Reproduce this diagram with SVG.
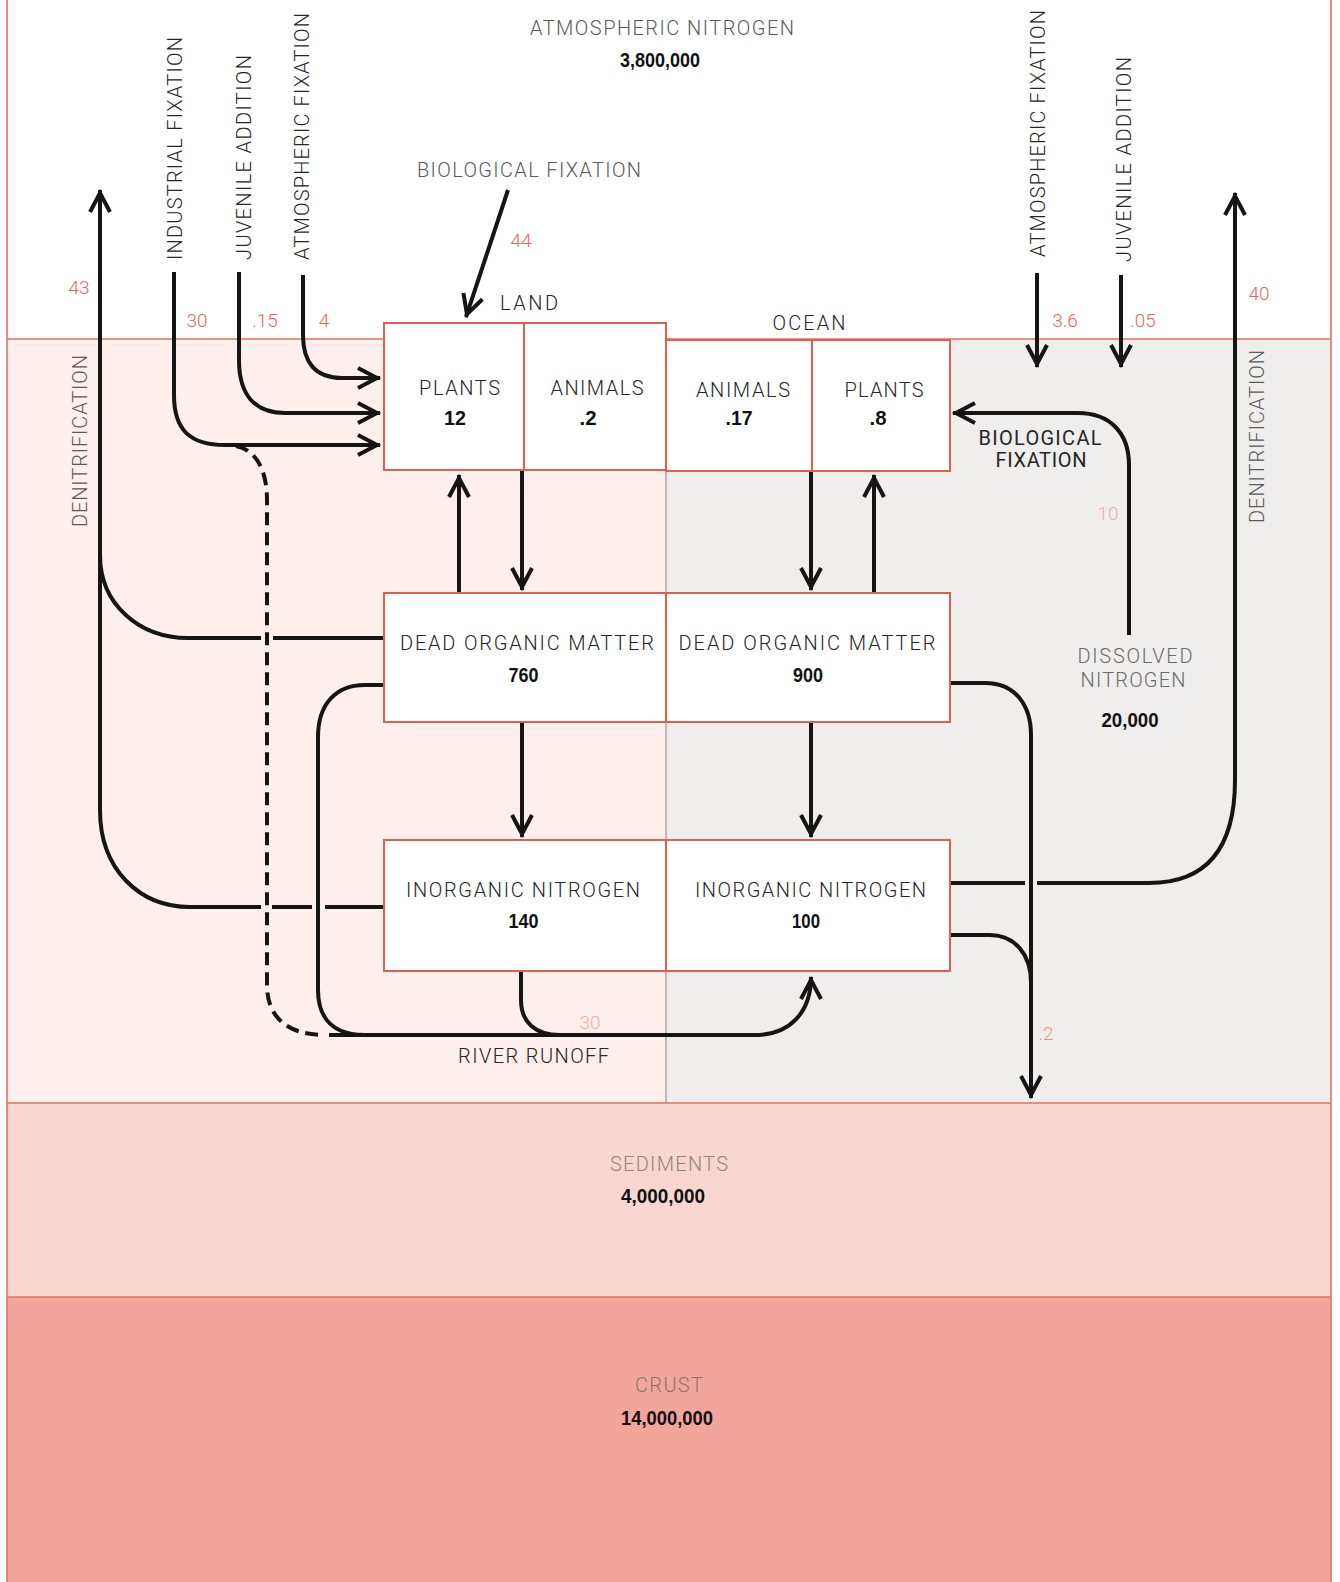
<svg xmlns="http://www.w3.org/2000/svg" width="1340" height="1582" viewBox="0 0 1340 1582">
<style>
.lbl{font-family:Roboto,"Liberation Sans",sans-serif;font-weight:300;font-size:20px;fill:#262626}
.gry{font-family:Roboto,"Liberation Sans",sans-serif;font-weight:300;font-size:20px;fill:#5a5a5a}
.num{font-family:"Liberation Sans",Arial,sans-serif;font-weight:bold;font-size:20px;fill:#111}
.red{font-family:Roboto,"Liberation Sans",sans-serif;font-weight:300;font-size:19px;fill:#e4675a}
.faint{font-family:Roboto,"Liberation Sans",sans-serif;font-weight:300;font-size:19px;fill:#eeb0a6}
.box{fill:#fff;stroke:#e0604f;stroke-width:2}
.edge{stroke:#e4705f;stroke-width:1.6;fill:none}
.c{fill:none;stroke:#151515;stroke-width:4}
</style>
<defs>
<marker id="ah" viewBox="-24 -14 30 28" refX="3" refY="0" markerWidth="30" markerHeight="28" markerUnits="userSpaceOnUse" orient="auto">
<path d="M-19,-10 L0,0 L-19,10" fill="none" stroke="#151515" stroke-width="4"/>
</marker>
</defs>

<g id="background">
<rect x="0" y="0" width="1340" height="1582" fill="#ffffff"/>
<rect x="7" y="339" width="659" height="764" fill="#fcefec"/>
<rect x="666" y="339" width="665" height="764" fill="#efeeed"/>
<rect x="7" y="1103" width="1324" height="194" fill="#f9d6cf"/>
<rect x="7" y="1297" width="1324" height="285" fill="#f2a59b"/>
<line class="edge" x1="7" y1="0" x2="7" y2="1582"/>
<line class="edge" x1="1331" y1="0" x2="1331" y2="1582"/>
<line class="edge" x1="7" y1="339" x2="1331" y2="339"/>
<line class="edge" x1="7" y1="1103" x2="1331" y2="1103"/>
<line class="edge" x1="7" y1="1297" x2="1331" y2="1297"/>
<line x1="666" y1="339" x2="666" y2="1103" stroke="#8a7f7c" stroke-width="1"/>
</g>

<g id="atmosphere">
<text class="gry" x="662" y="35" text-anchor="middle" textLength="264">ATMOSPHERIC NITROGEN</text>
<text class="num" x="660" y="67" text-anchor="middle" textLength="80" lengthAdjust="spacingAndGlyphs">3,800,000</text>
</g>

<g id="sediments">
<text class="gry" x="669" y="1171" text-anchor="middle" textLength="118" style="fill:#8e8583">SEDIMENTS</text>
<text class="num" x="663" y="1203" text-anchor="middle" textLength="84" lengthAdjust="spacingAndGlyphs">4,000,000</text>
</g>

<g id="crust">
<text class="gry" x="669" y="1392" text-anchor="middle" textLength="68" style="fill:#8e7470">CRUST</text>
<text class="num" x="667" y="1425" text-anchor="middle" textLength="92" lengthAdjust="spacingAndGlyphs">14,000,000</text>
</g>

<g id="connectors">
<!-- left denitrification -->
<path class="c" d="M261,907 H190 C140,907 100,870 100,810 V190" marker-end="url(#ah)"/>
<path class="c" d="M272,907 H312" stroke-width="6"/>
<path class="c" d="M325,907 H384"/>
<path class="c" d="M261,638 H188 C140,638 100,605 100,555"/>
<path class="c" d="M273,638 H384"/>
<!-- industrial fixation -->
<path class="c" d="M174,272 V395 C174,430 190,445 225,445 H380" marker-end="url(#ah)"/>
<path class="c" d="M236,446 C256,450 267,470 267,500 V985 C267,1015 285,1035 325,1035" stroke-dasharray="13,7"/>
<!-- juvenile addition land -->
<path class="c" d="M239,272 V360 C239,395 255,413 285,413 H380" marker-end="url(#ah)"/>
<!-- atmospheric fixation land -->
<path class="c" d="M303,275 V335 C303,362 315,378 342,378 H380" marker-end="url(#ah)"/>
<!-- biological fixation land -->
<path class="c" d="M508,190 L466,317" stroke-width="5" marker-end="url(#ah)"/>
<!-- land plants -> animals -->
<path class="c" d="M500,426 H543" stroke-width="6" marker-end="url(#ah)"/>
<!-- land plants <-> dead organic -->
<path class="c" d="M459,593 V475" marker-end="url(#ah)"/>
<path class="c" d="M522,470 V590" marker-end="url(#ah)"/>
<path class="c" d="M522,722 V837" marker-end="url(#ah)"/>
<!-- dead organic land loop / river runoff -->
<path class="c" d="M384,685 H365 C335,685 318,705 318,737 V990 C318,1020 335,1035 365,1035 H755 C790,1035 811,1012 811,977" marker-end="url(#ah)"/>
<path class="c" d="M329,1035 H365"/>
<path class="c" d="M521,971 V1000 C521,1022 535,1035 560,1035"/>
<!-- ocean plants -> animals -->
<path class="c" d="M830,427 H787" stroke-width="6" marker-end="url(#ah)"/>
<path class="c" d="M811,471 V590" marker-end="url(#ah)"/>
<path class="c" d="M874,593 V475" marker-end="url(#ah)"/>
<path class="c" d="M811,722 V837" marker-end="url(#ah)"/>
<!-- ocean biological fixation -->
<path class="c" d="M1129,635 V465 C1129,433 1110,413 1078,413 H953" marker-end="url(#ah)"/>
<!-- ocean atmospheric / juvenile -->
<path class="c" d="M1037,273 V367" marker-end="url(#ah)"/>
<path class="c" d="M1121,275 V367" marker-end="url(#ah)"/>
<!-- right denitrification -->
<path class="c" d="M950,883 H1025"/>
<path class="c" d="M1037,883 H1149 C1205,883 1235,850 1235,780 V193" marker-end="url(#ah)"/>
<!-- to sediments -->
<path class="c" d="M950,683 H985 C1015,683 1031,705 1031,735 V1098" stroke-width="3.5" marker-end="url(#ah)"/>
<path class="c" d="M950,935 H990 C1015,935 1031,955 1031,982" stroke-width="3.5"/>
</g>

<g id="flow-labels">
<text class="gry" x="529" y="177" text-anchor="middle" textLength="224">BIOLOGICAL FIXATION</text>
<text class="gry" transform="translate(174,148.5) rotate(-90)" y="7.5" text-anchor="middle" textLength="223" style="fill:#262626">INDUSTRIAL FIXATION</text>
<text class="gry" transform="translate(243,157.5) rotate(-90)" y="7.5" text-anchor="middle" textLength="205" style="fill:#262626">JUVENILE ADDITION</text>
<text class="gry" transform="translate(301,136.5) rotate(-90)" y="7.5" text-anchor="middle" textLength="247" style="fill:#262626">ATMOSPHERIC FIXATION</text>
<text class="gry" transform="translate(1037,133.5) rotate(-90)" y="7.5" text-anchor="middle" textLength="247" style="fill:#262626">ATMOSPHERIC FIXATION</text>
<text class="gry" transform="translate(1123,159.5) rotate(-90)" y="7.5" text-anchor="middle" textLength="205" style="fill:#262626">JUVENILE ADDITION</text>
<text class="gry" transform="translate(79,441) rotate(-90)" y="7.5" text-anchor="middle" textLength="172">DENITRIFICATION</text>
<text class="gry" transform="translate(1256,436.5) rotate(-90)" y="7.5" text-anchor="middle" textLength="173">DENITRIFICATION</text>
<text class="lbl" x="1040" y="445" text-anchor="middle" textLength="123" style="font-weight:400">BIOLOGICAL</text>
<text class="lbl" x="1041" y="467" text-anchor="middle" textLength="91" style="font-weight:400">FIXATION</text>
<text class="lbl" x="533.5" y="1063" text-anchor="middle" textLength="151">RIVER RUNOFF</text>
<text class="red" x="79" y="294" text-anchor="middle">43</text>
<text class="red" x="197" y="327" text-anchor="middle">30</text>
<text class="red" x="265" y="327" text-anchor="middle">.15</text>
<text class="red" x="324" y="327" text-anchor="middle">4</text>
<text class="red" x="521" y="247" text-anchor="middle">44</text>
<text class="red" x="1065" y="327" text-anchor="middle">3.6</text>
<text class="red" x="1143" y="327" text-anchor="middle">.05</text>
<text class="red" x="1259" y="300" text-anchor="middle">40</text>
<text class="faint" x="1108" y="520" text-anchor="middle">10</text>
<text class="faint" x="590" y="1029" text-anchor="middle">30</text>
<text class="red" x="1046" y="1040" text-anchor="middle" style="fill:#e8957a">.2</text>
</g>

<g id="land-label"><text class="lbl" x="529" y="310" text-anchor="middle" textLength="58">LAND</text></g>
<g id="ocean-label"><text class="lbl" x="809" y="330" text-anchor="middle" textLength="73">OCEAN</text></g>

<g id="land-biota">
<rect class="box" x="384" y="323" width="282" height="147"/>
<line x1="524" y1="323" x2="524" y2="470" stroke="#e0604f" stroke-width="2"/>
<text class="lbl" x="459.5" y="395" text-anchor="middle" textLength="81">PLANTS</text>
<text class="num" x="455" y="425" text-anchor="middle" textLength="22" lengthAdjust="spacingAndGlyphs">12</text>
<text class="lbl" x="597" y="395" text-anchor="middle" textLength="93">ANIMALS</text>
<text class="num" x="588" y="425" text-anchor="middle" textLength="17" lengthAdjust="spacingAndGlyphs">.2</text>
</g>

<g id="ocean-biota">
<rect class="box" x="666" y="340" width="284" height="131"/>
<line x1="812" y1="340" x2="812" y2="471" stroke="#e0604f" stroke-width="2"/>
<text class="lbl" x="743" y="397" text-anchor="middle" textLength="94">ANIMALS</text>
<text class="num" x="739" y="425" text-anchor="middle" textLength="27" lengthAdjust="spacingAndGlyphs">.17</text>
<text class="lbl" x="884" y="397" text-anchor="middle" textLength="79">PLANTS</text>
<text class="num" x="878" y="425" text-anchor="middle" textLength="17" lengthAdjust="spacingAndGlyphs">.8</text>
</g>

<g id="land-dead-organic">
<rect class="box" x="384" y="593" width="282" height="129"/>
<text class="lbl" x="527" y="650" text-anchor="middle" textLength="254">DEAD ORGANIC MATTER</text>
<text class="num" x="523.5" y="682" text-anchor="middle" textLength="30" lengthAdjust="spacingAndGlyphs">760</text>
</g>

<g id="ocean-dead-organic">
<rect class="box" x="666" y="593" width="284" height="129"/>
<text class="lbl" x="807" y="650" text-anchor="middle" textLength="257">DEAD ORGANIC MATTER</text>
<text class="num" x="808" y="682" text-anchor="middle" textLength="30" lengthAdjust="spacingAndGlyphs">900</text>
</g>

<g id="land-inorganic">
<rect class="box" x="384" y="840" width="282" height="131"/>
<text class="lbl" x="523" y="897" text-anchor="middle" textLength="234">INORGANIC NITROGEN</text>
<text class="num" x="523.5" y="928" text-anchor="middle" textLength="30" lengthAdjust="spacingAndGlyphs">140</text>
</g>

<g id="ocean-inorganic">
<rect class="box" x="666" y="840" width="284" height="131"/>
<text class="lbl" x="810.5" y="897" text-anchor="middle" textLength="231">INORGANIC NITROGEN</text>
<text class="num" x="806" y="928" text-anchor="middle" textLength="28" lengthAdjust="spacingAndGlyphs">100</text>
</g>

<g id="dissolved-nitrogen">
<text class="gry" x="1135" y="663" text-anchor="middle" textLength="115" style="fill:#6a6a6a">DISSOLVED</text>
<text class="gry" x="1133" y="687" text-anchor="middle" textLength="105" style="fill:#6a6a6a">NITROGEN</text>
<text class="num" x="1130" y="727" text-anchor="middle" textLength="57" lengthAdjust="spacingAndGlyphs">20,000</text>
</g>
</svg>
